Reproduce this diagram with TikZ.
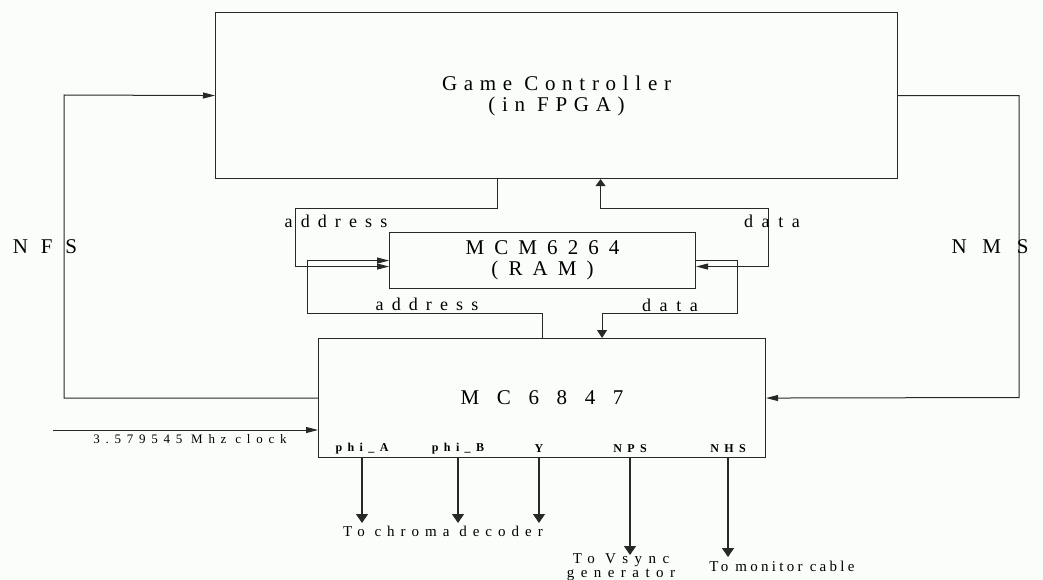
\documentclass[tikz,border=0pt]{standalone}
\usepackage{fontspec}
\setmainfont{Liberation Serif}
\usepackage{xcolor}
\usepackage{tikz}
\usetikzlibrary{arrows.meta,positioning}
\definecolor{paper}{RGB}{250,253,250}
\definecolor{ink}{RGB}{40,40,40}
\newcommand\ls[1]{\addfontfeature{LetterSpace=#1}}

\begin{document}
\begin{tikzpicture}[x=1pt,y=-1pt]
\tikzset{block/.style={draw=ink,line width=1.1pt,inner sep=0pt,anchor=north west,align=center}}
\tikzset{wire/.style={draw=ink,line width=1pt}}
\tikzset{hsig/.style={wire,-{Triangle[length=12pt,width=6pt]}}}
\tikzset{vsig/.style={wire,-{Triangle[length=8pt,width=10pt]}}}
\tikzset{pinsig/.style={wire,line width=1.3pt,-{Triangle[length=9pt,width=12pt]}}}
\tikzset{big/.style={font=\fontsize{21}{21}\selectfont\ls{#1}}}
\tikzset{mid/.style={font=\fontsize{18}{18}\selectfont\ls{#1}}}
\tikzset{small/.style={font=\fontsize{15}{14}\selectfont\ls{#1}}}
% page
\useasboundingbox[fill=paper] (0,0) rectangle (1043,580);
% blocks
\node[block,big=32,minimum width=682pt,minimum height=166pt] (gc) at (215,12) {Game Controller\\(in FPGA)};
\node[block,big=48,minimum width=306pt,minimum height=56pt] (ram) at (389,232) {MCM6264\\(RAM)};
\node[block,big=84,minimum width=447pt,minimum height=119pt] (mc) at (318,338) {MC6847};
% frame sync lines
\draw[hsig] (mc.west) -| (64,95) -- (gc.west);
\draw[hsig] (gc.east) -| (1019,397.5) -- (mc.east);
\node[big=61] (nfs) at (45,247) {NFS};
\node[big=75] (nms) at (990,247) {NMS};
% address buses
\draw[hsig] ([xshift=-59pt]gc.south) |- (295,208) |- ([yshift=-6pt]ram.west);
\draw[hsig] (mc.north) |- (307,313) |- (ram.west);
\node[mid=45] (adrtop) at (336,221) {address};
\node[mid=45] (adrbot) at (427,304) {address};
% data buses
\draw[wire,{Triangle[length=7pt,width=10pt]}-{Triangle[length=12pt,width=6pt]}] ([xshift=44pt]gc.south) |- (768,208) |- ([yshift=-6pt]ram.east);
\draw[vsig] (ram.east) -| (737,313) -| ([xshift=60pt]mc.north);
\node[mid=48] (dattop) at (772,221) {data};
\node[mid=48] (datbot) at (670,305) {data};
% clock input
\coordinate (clk) at (53,430);
\draw[hsig] (clk) -- (clk -| mc.west);
\node[font=\fontsize{13}{13}\selectfont\ls{44}] (clklbl) at (190,439) {3.579545 Mhz clock};
% output pins
\foreach \i/\x/\pin/\tip in {1/362/phi\_A/523, 2/458/phi\_B/523, 3/539/Y/523, 4/630/NPS/555, 5/728/NHS/557} {
  \node[font=\fontsize{12}{12}\selectfont\bfseries\ls{45}] (pin\i) at (\x,449) {\pin};
  \coordinate (tip\i) at (\x,\tip);
  \draw[pinsig] (tip\i |- mc.south) -- (tip\i);
}
\node[small=40] (chroma) at (443,531) {To chroma decoder};
\node[small=43,align=center] (vsync) at (621,567) {To Vsync\\generator};
\node[small=22] (monitor) at (782,566) {To monitor cable};
\end{tikzpicture}
\end{document}
